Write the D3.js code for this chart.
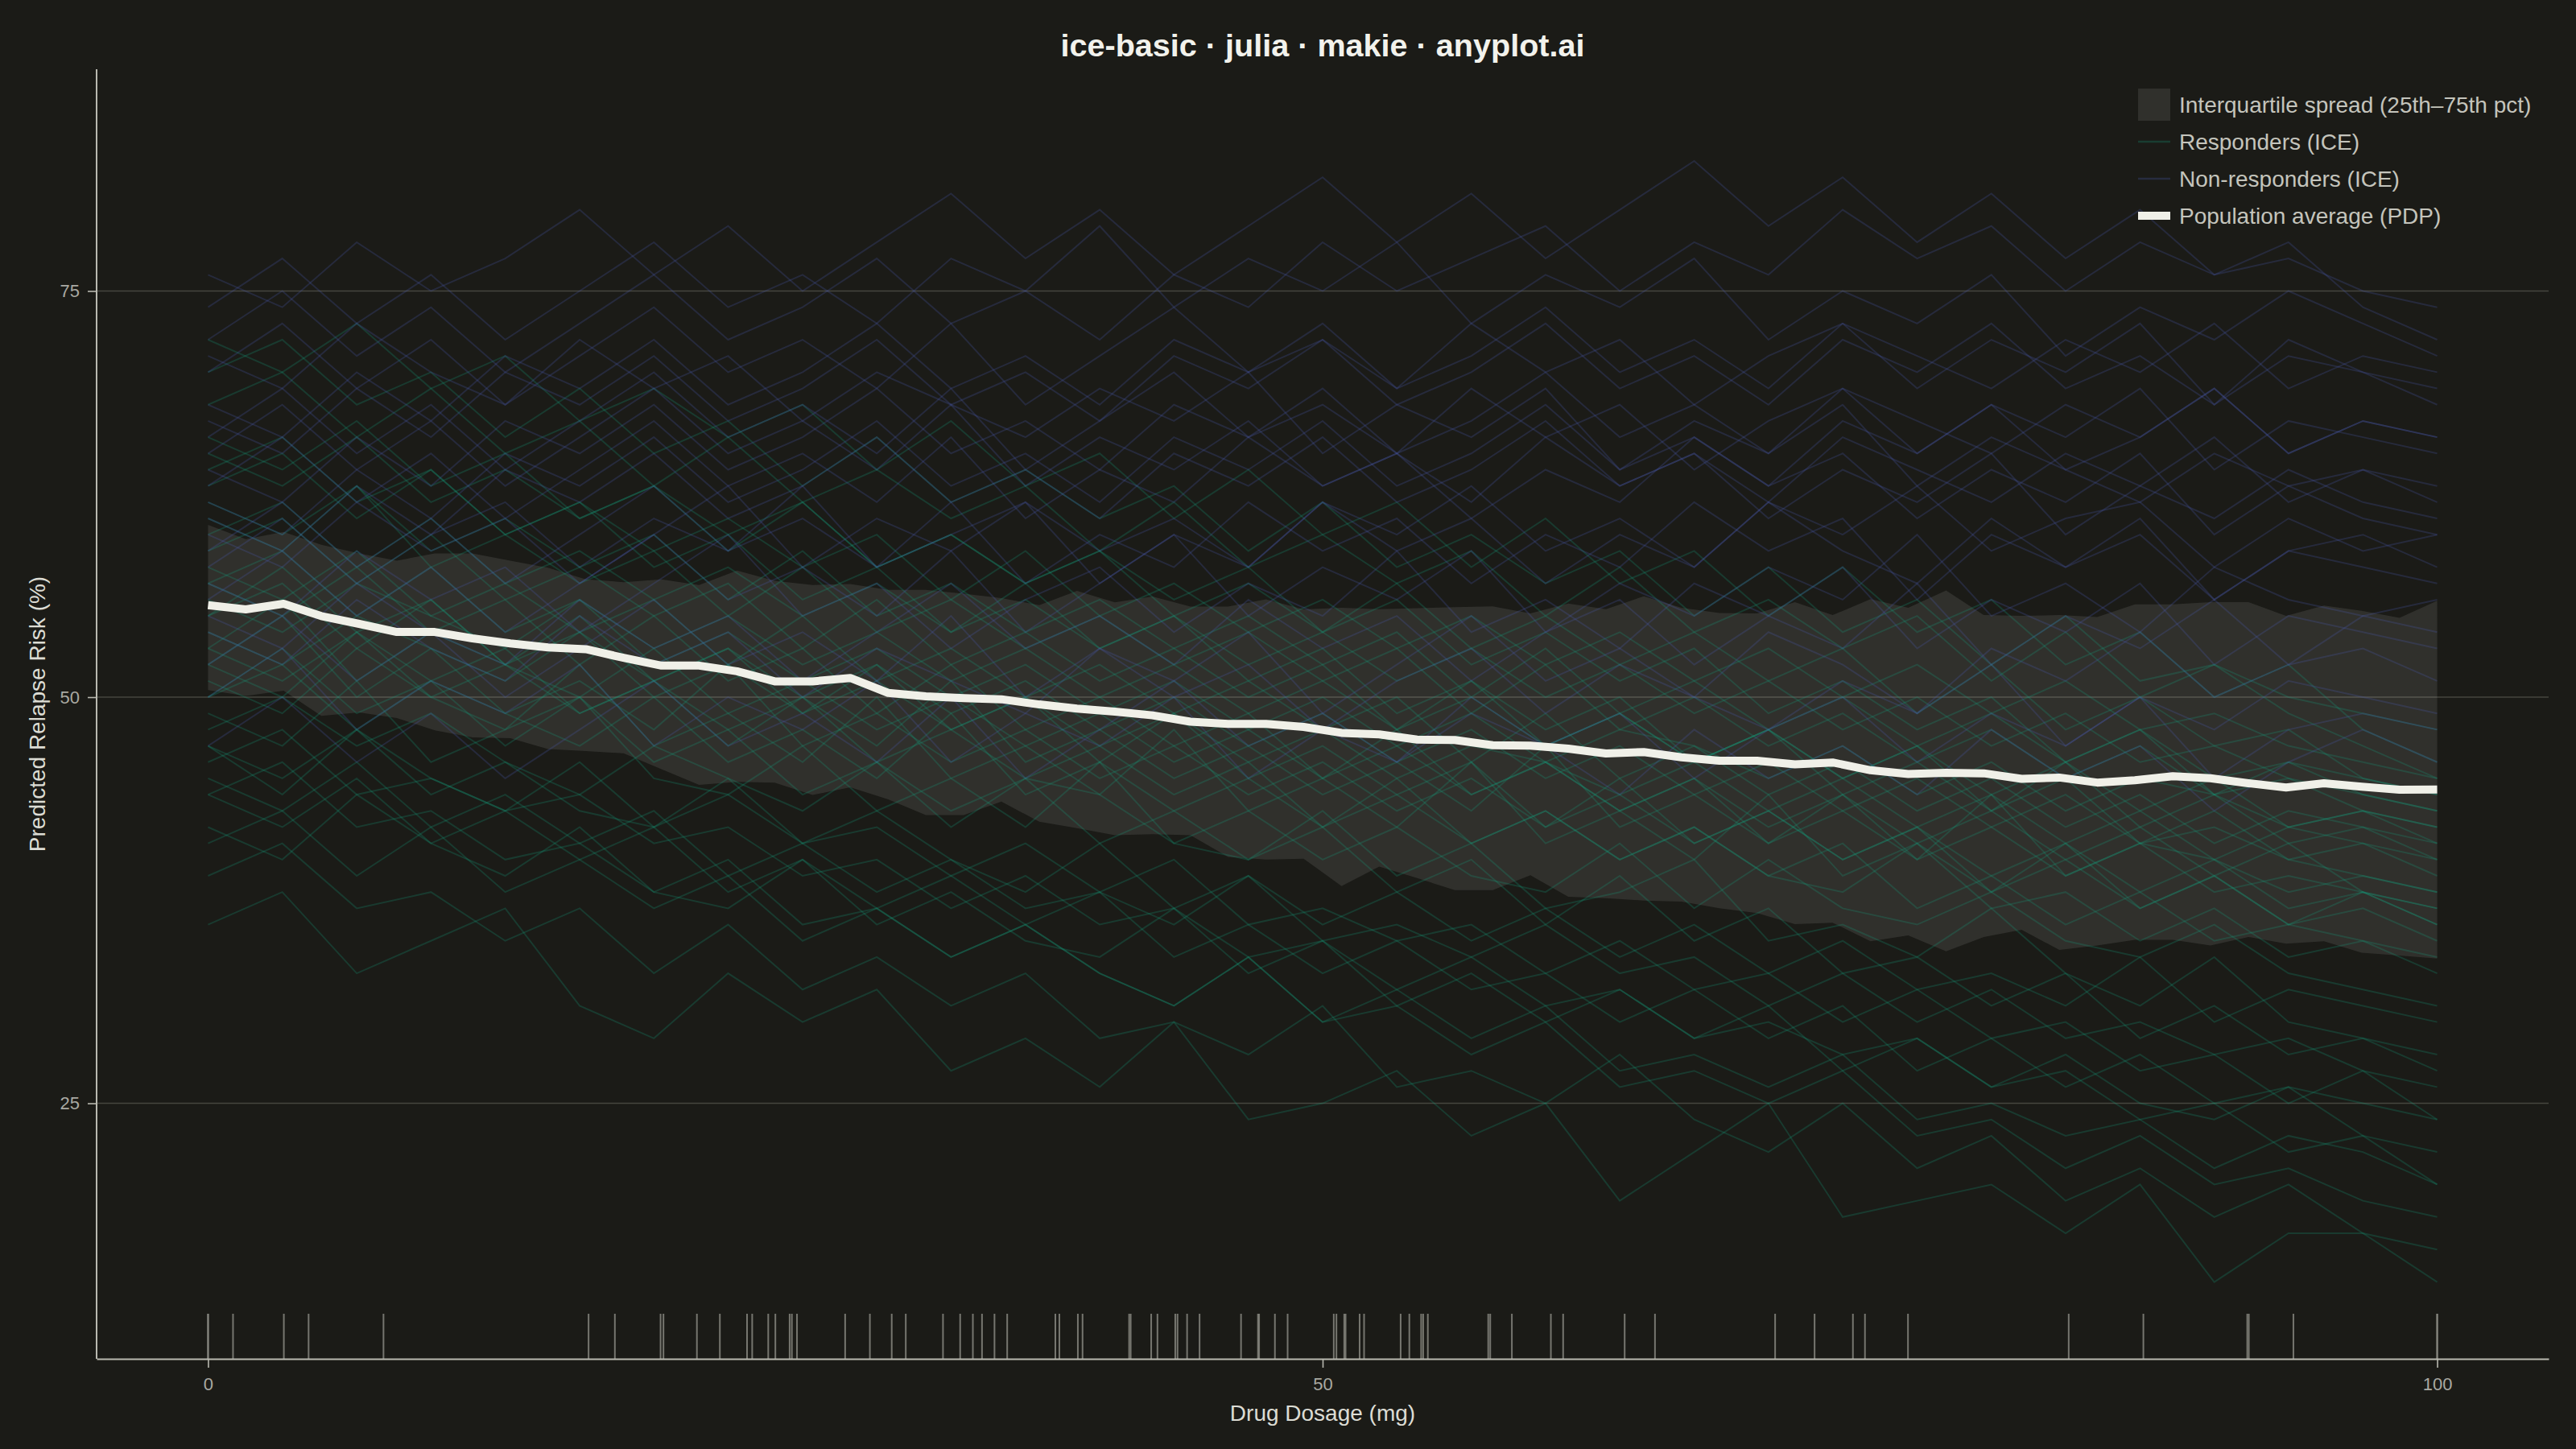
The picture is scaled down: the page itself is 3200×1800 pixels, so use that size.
<!DOCTYPE html>
<html>
<head>
<meta charset="utf-8">
<script src="https://cdn.jsdelivr.net/npm/d3@7"></script>
<style>
  body { margin: 0; background: #1b1b17; }
  svg { display: block; }
</style>
</head>
<body>
<div id="chart"></div>
<script>
// Dose grid used by the PDP and the interquartile band (60 points)
const doseGrid = [0, 1.69, 3.39, 5.08, 6.78, 8.47, 10.17, 11.86, 13.56, 15.25, 16.95, 18.64, 20.34, 22.03, 23.73,
    25.42, 27.12, 28.81, 30.51, 32.20, 33.90, 35.59, 37.29, 38.98, 40.68, 42.37, 44.07, 45.76, 47.46, 49.15,
    50.85, 52.54, 54.24, 55.93, 57.63, 59.32, 61.02, 62.71, 64.41, 66.10, 67.80, 69.49, 71.19, 72.88, 74.58,
    76.27, 77.97, 79.66, 81.36, 83.05, 84.75, 86.44, 88.14, 89.83, 91.53, 93.22, 94.92, 96.61, 98.31, 100];

// Population average (PDP)
const pdp = [55.66, 55.40, 55.75, 54.99, 54.51, 54.01, 54.01, 53.62, 53.31, 53.06, 52.95, 52.42, 51.94, 51.94, 51.59,
    50.97, 50.97, 51.18, 50.26, 50.05, 49.94, 49.87, 49.55, 49.29, 49.11, 48.88, 48.49, 48.35, 48.35, 48.17,
    47.80, 47.71, 47.39, 47.36, 47.04, 47.01, 46.83, 46.53, 46.62, 46.30, 46.09, 46.09, 45.86, 45.98, 45.50,
    45.27, 45.34, 45.31, 44.97, 45.05, 44.74, 44.88, 45.13, 45.01, 44.70, 44.44, 44.70, 44.49, 44.30, 44.31];

// 25th and 75th percentiles of the ICE curves
const iqrLow = [50.44, 50.08, 50.40, 48.85, 49.06, 48.71, 47.96, 47.52, 47.47, 46.81, 46.68, 46.54, 45.57, 44.60, 44.78,
    44.74, 43.98, 44.45, 43.71, 42.74, 42.74, 43.57, 42.33, 41.94, 41.50, 41.56, 41.50, 40.17, 40.00, 40.05,
    38.37, 39.57, 38.86, 38.12, 38.12, 39.04, 37.71, 37.63, 37.48, 37.41, 37.01, 36.71, 36.03, 36.12, 34.97,
    35.33, 34.36, 35.24, 35.68, 34.44, 34.71, 35.06, 35.06, 34.71, 35.24, 34.83, 34.97, 34.27, 34.09, 33.91];
const iqrHigh = [60.61, 59.73, 60.17, 59.38, 58.85, 58.40, 58.85, 58.85, 58.40, 57.96, 57.25, 57.08, 57.25, 56.90, 57.79,
    57.16, 56.90, 56.96, 56.60, 56.60, 56.37, 56.10, 55.66, 56.54, 55.84, 56.19, 55.57, 55.57, 56.02, 55.40,
    55.50, 55.41, 55.47, 55.54, 55.59, 55.15, 55.76, 55.41, 56.21, 55.50, 55.18, 55.15, 55.85, 55.05, 56.03,
    55.50, 56.56, 55.05, 55.00, 55.05, 54.93, 55.71, 55.71, 55.85, 55.85, 55.00, 55.64, 55.32, 54.88, 55.94];

// Dose grid of the individual ICE curves (31 points)
const iceDose = [0, 3.33, 6.67, 10, 13.33, 16.67, 20, 23.33, 26.67, 30, 33.33, 36.67, 40, 43.33, 46.67,
    50, 53.33, 56.67, 60, 63.33, 66.67, 70, 73.33, 76.67, 80, 83.33, 86.67, 90, 93.33, 96.67, 100];

// Responders: risk falls with dose
const responders = [
    [36,38,33,35,37,31,29,33,30,32,27,29,26,30,24,25,27,23,25,19,22,25,18,19,20,17,20,14,17,17,14],
    [39,41,37,38,35,37,33,36,32,34,31,33,29,30,28,31,26,27,25,28,24,22,25,21,23,19,21,18,20,17,16],
    [42,40,44,41,39,42,38,37,40,36,38,35,34,37,33,35,31,33,30,32,29,31,27,29,26,28,25,24,26,23,22],
    [44,46,42,43,40,41,38,40,36,37,34,36,33,31,34,30,31,28,30,26,27,25,27,23,24,21,23,20,21,19,18],
    [45,43,46,42,44,41,43,39,41,38,40,37,38,36,39,35,36,34,36,33,34,31,33,30,32,29,30,28,29,27,26],
    [46,48,44,45,43,44,41,42,39,40,37,39,36,37,34,35,32,34,31,32,29,30,28,29,26,27,24,25,22,23,20],
    [47,45,48,44,46,43,42,45,41,42,39,41,38,40,36,37,35,36,33,35,32,33,30,32,29,30,27,28,25,27,24],
    [48,50,47,49,46,44,47,45,43,46,42,45,44,41,43,40,42,39,38,41,37,40,37,36,38,35,34,36,33,32,31],
    [49,47,51,46,48,50,45,44,47,43,45,42,46,41,40,43,39,41,37,38,40,35,36,34,37,33,31,34,30,29,28],
    [50,52,48,51,49,47,50,46,48,45,49,44,46,43,45,42,44,41,43,40,42,39,38,41,37,38,35,37,34,35,33],
    [51,49,53,50,48,52,47,49,46,50,45,47,44,48,43,45,42,46,41,43,40,44,39,41,38,40,37,39,36,37,35],
    [52,55,50,53,49,51,48,52,47,49,46,48,45,47,44,46,43,45,42,44,41,43,40,42,39,41,38,40,37,38,36],
    [52,50,54,51,53,49,51,48,50,47,51,46,48,45,47,44,46,43,47,42,44,41,43,40,44,39,41,40,38,39,38],
    [53,56,51,54,52,50,53,49,51,48,50,47,49,46,48,45,47,44,46,43,45,42,44,41,43,40,42,39,41,38,37],
    [54,52,55,53,51,54,50,52,49,51,48,50,47,49,46,48,45,47,46,44,46,43,45,42,44,41,43,40,42,41,40],
    [55,57,53,56,52,54,51,53,50,52,49,51,48,50,47,49,46,48,45,47,44,46,43,45,42,44,41,43,40,41,39],
    [56,54,57,55,53,56,52,54,51,53,50,52,49,51,48,50,47,49,46,48,47,45,47,44,46,43,45,44,42,43,42],
    [57,59,55,58,54,56,53,55,52,54,51,53,50,52,49,51,48,50,47,49,46,48,45,47,44,46,43,45,42,43,41],
    [58,56,59,55,57,54,56,52,55,51,53,50,52,49,51,48,50,46,49,45,47,44,46,43,45,42,44,41,43,42,40],
    [60,62,58,61,57,59,56,58,55,57,54,56,53,55,52,54,51,53,50,52,49,51,48,50,47,49,46,47,45,44,43],
    [61,59,63,58,60,57,59,55,58,54,56,53,55,52,54,51,53,49,52,48,50,47,49,46,48,45,47,44,45,43,42],
    [63,65,61,64,60,62,59,61,58,60,56,59,55,57,54,56,53,55,52,54,51,53,50,52,49,51,48,49,47,46,45],
    [65,63,66,62,64,61,63,59,62,58,60,57,59,56,58,54,57,53,55,52,54,51,53,49,52,48,50,47,48,45,44],
    [68,70,66,69,65,67,63,66,62,64,61,63,59,62,58,60,57,59,55,58,54,56,53,55,51,54,50,52,49,47,45],
    [72,70,73,69,71,67,69,66,68,64,67,63,65,61,64,60,62,58,61,57,59,55,58,54,56,52,54,50,52,48,46],
    [41,43,39,42,38,40,37,39,35,37,34,36,33,31,34,30,32,29,31,27,28,26,28,24,25,23,24,21,23,22,20],
    [47,44,48,45,43,46,42,44,41,43,40,38,41,37,39,36,38,35,37,34,36,33,35,32,33,31,34,30,32,31,30],
    [50,53,49,51,47,50,46,48,44,46,43,45,41,43,40,42,38,40,36,39,35,37,33,34,31,33,29,31,28,29,27],
    [53,51,54,50,52,49,51,47,50,46,48,45,47,44,46,42,45,41,43,40,42,39,41,37,39,36,38,35,36,35,34],
    [55,58,54,56,52,55,51,53,49,52,48,50,46,49,45,47,44,46,42,45,41,43,40,42,38,41,37,39,36,38,36],
    [57,55,58,54,56,52,55,51,53,49,52,48,50,47,49,45,48,44,46,43,45,41,44,40,42,39,41,38,39,38,37],
    [59,61,57,60,56,58,55,57,53,56,52,54,51,53,50,52,48,51,47,49,46,48,45,47,43,46,42,44,41,42,41],
    [62,60,63,59,61,58,60,56,59,55,57,54,56,53,55,52,54,50,53,49,51,48,50,47,49,46,48,44,46,45,44],
    [64,66,62,64,60,62,58,60,56,58,54,57,53,55,51,53,49,51,48,50,46,48,44,46,43,45,41,42,40,39,38],
    [66,64,67,63,65,61,63,60,62,58,60,57,59,55,57,54,56,52,54,51,53,49,51,48,50,46,48,45,46,44,43],
    [70,72,68,70,66,69,65,67,63,66,62,64,61,63,59,62,58,60,57,59,55,58,54,56,52,55,51,52,50,49,48],
    [44,42,45,41,43,40,42,38,40,37,39,36,38,34,36,33,35,32,33,30,32,29,31,27,29,26,28,25,26,25,24]
];

// Non-responders: risk stays roughly flat
const nonResponders = [
    [50,53,48,51,49,52,47,50,48,51,46,49,47,50,45,48,46,49,47,44,48,45,47,44,48,45,47,43,46,48,46],
    [54,52,56,53,51,55,52,54,50,53,51,49,53,50,52,48,51,53,49,52,50,48,51,49,52,47,50,48,51,50,49],
    [52,55,51,54,50,53,56,52,54,51,55,50,53,51,54,49,52,55,51,53,50,54,52,49,53,51,54,50,52,53,51],
    [57,55,59,56,58,54,57,60,55,57,53,56,58,54,57,55,59,54,56,53,57,55,58,53,56,54,57,52,55,54,53],
    [56,59,55,58,54,57,60,56,58,55,59,54,57,60,55,58,56,59,54,57,55,58,56,60,55,57,54,58,56,55,56],
    [60,58,62,59,61,57,60,63,58,61,59,62,57,60,58,62,59,61,57,60,58,62,59,57,61,58,60,56,59,60,58],
    [58,61,57,60,62,58,61,59,63,58,60,62,59,61,58,62,60,63,59,61,58,62,60,63,59,61,62,58,61,59,60],
    [63,66,62,65,61,64,67,63,65,62,66,61,64,62,66,63,65,61,64,62,66,63,65,61,64,62,65,60,63,64,62],
    [61,59,63,60,64,62,65,61,63,66,62,64,61,65,63,66,62,64,67,63,65,62,66,64,62,65,63,66,62,64,63],
    [66,69,65,68,64,67,70,66,68,65,69,64,67,70,66,68,65,69,66,68,64,67,69,65,68,66,69,64,67,66,65],
    [64,62,66,63,67,65,68,64,66,69,65,67,64,68,66,69,65,67,70,66,68,65,69,67,65,68,66,69,65,67,66],
    [70,73,69,72,68,71,74,70,72,69,73,68,71,74,70,72,69,73,70,72,68,71,73,69,72,70,73,68,71,70,68],
    [68,66,70,67,71,69,72,68,70,73,69,71,68,72,70,73,69,71,74,70,72,69,73,71,69,72,70,73,69,71,70],
    [74,77,73,76,72,75,78,74,76,73,77,75,79,74,77,75,78,73,76,74,77,72,75,73,76,71,74,72,75,73,71],
    [76,74,78,75,77,80,76,79,75,78,81,77,80,76,79,82,78,81,77,80,83,79,82,78,81,77,80,76,78,74,72],
    [47,50,46,49,45,48,51,47,49,46,50,45,48,51,47,49,46,50,47,49,45,48,50,46,49,47,50,45,48,49,48],
    [55,53,57,54,52,56,53,55,51,54,57,53,55,52,56,53,55,51,54,56,52,55,53,57,52,55,53,56,52,55,54],
    [59,62,58,61,57,60,63,59,61,58,62,57,60,58,62,59,61,57,60,58,62,59,61,56,60,58,61,56,59,58,57],
    [62,60,64,61,65,63,66,62,64,67,63,65,62,66,64,67,63,65,68,64,66,63,67,65,68,64,66,69,65,67,66],
    [65,68,64,67,63,66,69,65,67,64,68,63,66,64,67,63,65,62,66,63,65,61,64,62,65,60,63,61,64,62,61],
    [67,65,69,66,70,68,71,67,69,72,68,70,67,71,69,72,68,70,73,69,71,68,72,70,73,69,71,68,72,70,69],
    [72,75,71,74,70,73,76,72,74,77,73,75,72,76,74,78,75,77,79,75,78,76,80,77,79,75,78,76,77,75,74],
    [71,69,73,70,68,72,69,71,67,70,68,66,69,67,70,65,68,66,69,64,67,65,68,63,66,64,62,65,63,61,60]
];

// Observed dosages (rug)
const rugDoses = [0, 0, 1.12, 3.40, 4.51, 7.87, 17.07, 18.25, 20.30, 20.43, 21.93, 22.96, 24.18, 24.41, 25.13, 25.45,
    26.09, 26.19, 26.42, 28.58, 29.69, 30.67, 31.30, 32.97, 33.74, 34.31, 34.72, 35.28, 35.85, 38.01, 38.19,
    39.02, 39.23, 41.32, 41.39, 42.31, 42.59, 43.39, 43.49, 43.92, 44.48, 46.34, 47.10, 47.15, 47.86, 48.43,
    50.50, 50.62, 50.97, 51.03, 51.66, 51.86, 53.50, 53.89, 54.42, 54.51, 54.72, 57.43, 57.52, 58.49, 60.24,
    60.79, 63.55, 64.91, 70.30, 72.07, 73.79, 74.33, 76.26, 83.47, 86.82, 91.48, 91.55, 93.55, 100, 100];

const xTicks = [0, 50, 100];
const yTicks = [25, 50, 75];

const legendItems = ["Interquartile spread (25th\u201375th pct)", "Responders (ICE)", "Non-responders (ICE)", "Population average (PDP)"];

var width = 3200, height = 1800;
var margin = {top: 86, right: 34, bottom: 112, left: 120};
var font = "'Liberation Sans', Arial, Helvetica, sans-serif";

var bg = "#1b1b17",
    bandColor = "#f0efe8",
    greenColor = "#14a07c",
    blueColor = "#4a5cb4",
    pdpColor = "#f0f0e8",
    axisColor = "#b9b9b0";

var svg = d3.select("#chart")
    .append("svg")
    .attr("width", width)
    .attr("height", height);

svg.append("rect").attr("width", width).attr("height", height).attr("fill", bg);

var x = d3.scaleLinear().domain([-5, 105]).range([margin.left, width - margin.right]);
var y = d3.scaleLinear().domain([9.27, 88.65]).range([height - margin.bottom, margin.top]);

// Horizontal gridlines
svg.append("g")
    .selectAll("line")
    .data(yTicks)
    .join("line")
    .attr("x1", margin.left)
    .attr("x2", width - margin.right)
    .attr("y1", d => y(d))
    .attr("y2", d => y(d))
    .attr("stroke", "#46463f")
    .attr("stroke-width", 1.6);

// Interquartile band
svg.append("path")
    .datum(doseGrid)
    .attr("fill", bandColor)
    .attr("fill-opacity", 0.1)
    .attr("d", d3.area()
        .x(d => x(d))
        .y0((d, i) => y(iqrLow[i]))
        .y1((d, i) => y(iqrHigh[i])));

// ICE curves
var iceLine = d3.line()
    .x((d, i) => x(iceDose[i]))
    .y(d => y(d));

svg.append("g")
    .selectAll("path")
    .data(responders)
    .join("path")
    .attr("fill", "none")
    .attr("stroke", greenColor)
    .attr("stroke-opacity", 0.24)
    .attr("stroke-width", 2)
    .attr("d", iceLine);

svg.append("g")
    .selectAll("path")
    .data(nonResponders)
    .join("path")
    .attr("fill", "none")
    .attr("stroke", blueColor)
    .attr("stroke-opacity", 0.24)
    .attr("stroke-width", 2)
    .attr("d", iceLine);

// PDP line
svg.append("path")
    .datum(pdp)
    .attr("fill", "none")
    .attr("stroke", pdpColor)
    .attr("stroke-width", 10)
    .attr("stroke-linejoin", "round")
    .attr("d", d3.line()
        .x((d, i) => x(doseGrid[i]))
        .y(d => y(d)));

// Rug of observed dosages
svg.append("g")
    .selectAll("line")
    .data(rugDoses)
    .join("line")
    .attr("x1", d => x(d))
    .attr("x2", d => x(d))
    .attr("y1", height - margin.bottom)
    .attr("y2", height - margin.bottom - 56)
    .attr("stroke", "#8d8d86")
    .attr("stroke-opacity", 0.8)
    .attr("stroke-width", 2);

// Axes
var xAxis = svg.append("g")
    .attr("transform", "translate(0," + (height - margin.bottom) + ")")
    .call(d3.axisBottom(x).tickValues(xTicks).tickSize(11).tickSizeOuter(0).tickPadding(12));
var yAxis = svg.append("g")
    .attr("transform", "translate(" + margin.left + ",0)")
    .call(d3.axisLeft(y).tickValues(yTicks).tickSize(11).tickSizeOuter(0).tickPadding(10));

[xAxis, yAxis].forEach(g => {
    g.attr("font-family", font).attr("font-size", 22);
    g.select(".domain").attr("stroke", axisColor).attr("stroke-width", 2);
    g.selectAll(".tick line").attr("stroke", axisColor).attr("stroke-width", 1.6);
    g.selectAll(".tick text").attr("fill", "#a9a9a2");
});
// left spine runs the full plot height
yAxis.select(".domain").attr("d", "M0," + y.range()[0] + "V" + y.range()[1]);

// Axis titles
svg.append("text")
    .attr("x", (x.range()[0] + x.range()[1]) / 2)
    .attr("y", 1765)
    .attr("text-anchor", "middle")
    .attr("font-family", font)
    .attr("font-size", 28)
    .attr("fill", "#dcdcd4")
    .text("Drug Dosage (mg)");

svg.append("text")
    .attr("transform", "translate(56," + ((y.range()[0] + y.range()[1]) / 2) + ") rotate(-90)")
    .attr("text-anchor", "middle")
    .attr("font-family", font)
    .attr("font-size", 28)
    .attr("fill", "#dcdcd4")
    .text("Predicted Relapse Risk (%)");

// Title
svg.append("text")
    .attr("x", (x.range()[0] + x.range()[1]) / 2)
    .attr("y", 70)
    .attr("text-anchor", "middle")
    .attr("font-family", font)
    .attr("font-size", 39.6)
    .attr("font-weight", "bold")
    .attr("fill", "#f2f2ec")
    .text("ice-basic \u00b7 julia \u00b7 makie \u00b7 anyplot.ai");

// Legend
var legend = svg.append("g").attr("transform", "translate(2656,0)");
var rowY = [130, 176, 222, 268];

legend.append("rect").attr("x", 0).attr("y", rowY[0] - 20).attr("width", 40).attr("height", 40)
    .attr("fill", bandColor).attr("fill-opacity", 0.1);
legend.append("line").attr("x1", 0).attr("x2", 40).attr("y1", rowY[1]).attr("y2", rowY[1])
    .attr("stroke", greenColor).attr("stroke-opacity", 0.26).attr("stroke-width", 2.5);
legend.append("line").attr("x1", 0).attr("x2", 40).attr("y1", rowY[2]).attr("y2", rowY[2])
    .attr("stroke", blueColor).attr("stroke-opacity", 0.26).attr("stroke-width", 2.5);
legend.append("line").attr("x1", 0).attr("x2", 40).attr("y1", rowY[3]).attr("y2", rowY[3])
    .attr("stroke", pdpColor).attr("stroke-width", 10);

legend.selectAll("text.label")
    .data(legendItems)
    .join("text")
    .attr("class", "label")
    .attr("x", 51)
    .attr("y", (d, i) => rowY[i])
    .attr("dy", "0.36em")
    .attr("font-family", font)
    .attr("font-size", 28)
    .attr("fill", "#c4c4bc")
    .text(d => d);
</script>
</body>
</html>
